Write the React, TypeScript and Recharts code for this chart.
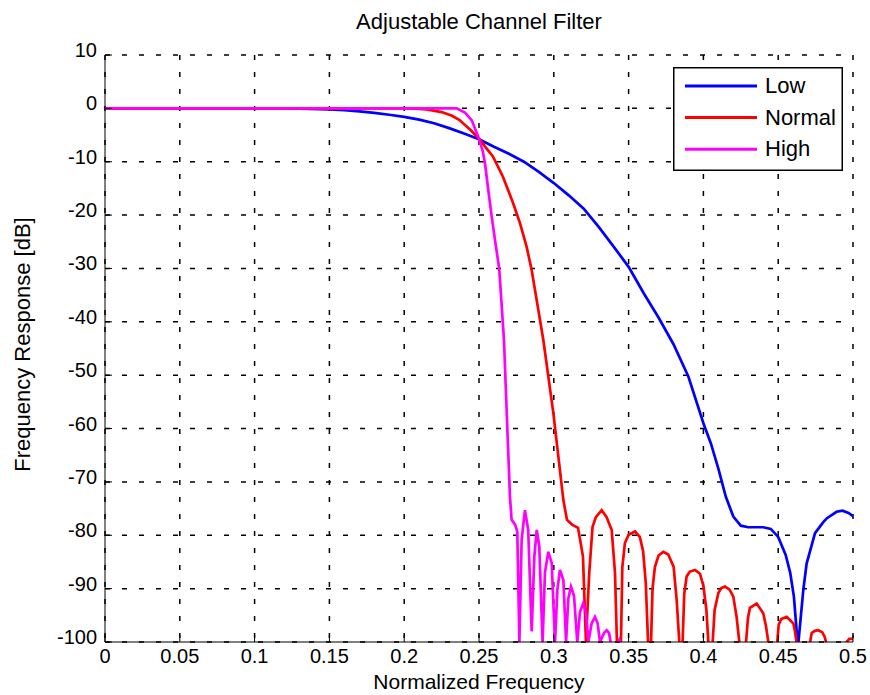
import { CartesianGrid, Legend, Line, LineChart, XAxis, YAxis } from "recharts";

const FONT = '"Liberation Sans", Arial, Helvetica, sans-serif';

const xTicks = [0, 0.05, 0.1, 0.15, 0.2, 0.25, 0.3, 0.35, 0.4, 0.45, 0.5];
const yTicks = [10, 0, -10, -20, -30, -40, -50, -60, -70, -80, -90, -100];

// Low
const lowFreq = [
  0, 0.05, 0.1, 0.13, 0.15, 0.16, 0.17, 0.18, 0.19, 0.2, 0.21, 0.22, 0.23, 0.24, 0.25, 0.26, 0.27, 0.28, 0.29, 0.3,
  0.31, 0.32, 0.33, 0.34, 0.35, 0.36, 0.37, 0.38, 0.39, 0.4, 0.405, 0.41, 0.415, 0.42, 0.425, 0.43, 0.44, 0.445,
  0.45, 0.455, 0.458, 0.4605, 0.4632, 0.4668, 0.469, 0.4746, 0.48, 0.4826, 0.489, 0.493, 0.497, 0.5
];
const lowDb = [
  0, 0, 0, -0.05, -0.2, -0.35, -0.55, -0.85, -1.2, -1.6, -2.1, -2.8, -3.7, -4.7, -5.8, -7.2, -8.5, -10, -11.9, -14,
  -16.3, -18.8, -22.2, -25.9, -29.7, -34.6, -39.2, -44.2, -50.3, -59, -62.8, -67.5, -72.8, -76.5, -78.2, -78.5, -78.5, -78.8,
  -80.3, -83.7, -87, -91.5, -101, -90.2, -85.3, -79.6, -77.6, -76.8, -75.6, -75.4, -75.8, -76.4
];

// Normal
const normalFreq = [
  0, 0.205, 0.215, 0.225, 0.232, 0.237, 0.2445, 0.2507, 0.255, 0.2593, 0.266, 0.2727, 0.2774, 0.2818, 0.2852, 0.2874,
  0.293, 0.2997, 0.3064, 0.3088, 0.3122, 0.3162, 0.3195, 0.3215,
  0.3237, 0.3259, 0.3281, 0.332, 0.3353, 0.3387, 0.3409, 0.3422, 0.3435, 0.3449,
  0.3458, 0.3475, 0.35, 0.3543, 0.3575, 0.3597, 0.3615, 0.363, 0.364, 0.365,
  0.366, 0.3676, 0.37, 0.3732, 0.3765, 0.3801, 0.3821, 0.3839, 0.385, 0.3861,
  0.3872, 0.3888, 0.391, 0.3944, 0.3977, 0.4, 0.402, 0.4033, 0.4048, 0.4062,
  0.4075, 0.41, 0.412, 0.4144, 0.4175, 0.42, 0.4222, 0.424, 0.4262, 0.4285,
  0.4298, 0.4311, 0.4356, 0.44, 0.4418, 0.4434, 0.4464, 0.4494,
  0.4503, 0.452, 0.4557, 0.4601, 0.4612, 0.4623, 0.4668, 0.4713,
  0.4724, 0.4745, 0.4768, 0.4795, 0.481, 0.482, 0.489, 0.4958, 0.4975, 0.5
];
const normalDb = [
  0, 0, -0.2, -0.7, -1.4, -2.2, -4.1, -5.9, -7.5, -9, -12.8, -17.7, -21.5, -25.9, -30.3, -34,
  -43.4, -57.1, -73.4, -77.1, -78, -78.6, -84, -100,
  -87, -78.4, -76.6, -75.3, -76.6, -79, -87, -100, -105, -100,
  -86, -81.5, -79.9, -79.3, -80.3, -83, -89, -100, -105, -100,
  -90, -85.9, -83.8, -83.1, -83.6, -85.9, -92, -100, -105, -100,
  -91, -87.7, -86.8, -86.5, -87.2, -89.5, -94, -100, -105, -100,
  -94, -90.8, -89.9, -89.6, -90.2, -91.5, -95.3, -100, -106, -100,
  -95.5, -93.6, -92.8, -94.6, -97, -100, -106, -100,
  -96.8, -95.7, -95.3, -96.5, -98, -100, -106, -100,
  -98.3, -97.9, -97.8, -98.2, -99, -100, -106, -100, -99.4, -99.4
];

// High
const highFreq = [
  0, 0.2351, 0.2406, 0.2451, 0.2495, 0.2525, 0.254, 0.2562, 0.2585, 0.2607, 0.2635, 0.2667, 0.2689, 0.2707, 0.2718,
  0.2741, 0.2756, 0.277,
  0.2785, 0.2807, 0.2829, 0.2852,
  0.287, 0.2886, 0.2903, 0.2925,
  0.2941, 0.2963, 0.2986, 0.3008,
  0.3024, 0.3041, 0.3064, 0.3082,
  0.3097, 0.3115, 0.3135, 0.3157,
  0.3175, 0.3197, 0.3215, 0.3231,
  0.3253, 0.3275, 0.3293, 0.3309,
  0.3336, 0.3353, 0.3369, 0.338,
  0.341, 0.3432, 0.3438, 0.3444, 0.35, 0.5
];
const highDb = [
  0, 0, -0.8, -2.2, -5.3, -8, -10.3, -15.3, -20.3, -24.7, -30, -43.4, -59.7, -72.8, -77.1,
  -78, -79.3, -100,
  -80.9, -75.3, -79, -98,
  -84, -79, -82.1, -100,
  -87, -83.1, -85.2, -100,
  -90.2, -86.5, -88.4, -100,
  -91.9, -89.6, -91.3, -100,
  -94.4, -92.7, -94.4, -100,
  -96.5, -95.3, -96.5, -100,
  -98.3, -97.8, -98.3, -100,
  -104, -100, -99.6, -100, -110, -110
];

const toRows = (f: number[], db: number[]) => f.map((v, i) => ({ f: v, db: db[i] }));

const series = [
  { name: "Low", color: "#0000ff", rows: toRows(lowFreq, lowDb) },
  { name: "Normal", color: "#ff0000", rows: toRows(normalFreq, normalDb) },
  { name: "High", color: "#ff00ff", rows: toRows(highFreq, highDb) }
];

const TICK = 7;

function BottomTick({ x, y, payload }: any) {
  return (
    <g>
      <line x1={x} x2={x} y1={y} y2={y - TICK} stroke="#000" />
      <text x={x} y={y + 21} textAnchor="middle" fontSize={20} fontFamily={FONT} fill="#000">
        {String(payload.value)}
      </text>
    </g>
  );
}

function TopTick({ x, y }: any) {
  return <line x1={x} x2={x} y1={y} y2={y + TICK} stroke="#000" />;
}

function LeftTick({ x, y, payload }: any) {
  return (
    <g>
      <line x1={x} x2={x + TICK} y1={y} y2={y} stroke="#000" />
      <text x={x - 8} y={y + 2} textAnchor="end" fontSize={20} fontFamily={FONT} fill="#000">
        {String(payload.value)}
      </text>
    </g>
  );
}

function RightTick({ x, y }: any) {
  return <line x1={x} x2={x - TICK} y1={y} y2={y} stroke="#000" />;
}

function XTitle({ viewBox }: any) {
  return (
    <text x={viewBox.x + viewBox.width / 2} y={viewBox.y + 47} textAnchor="middle" fontSize={21} fontFamily={FONT} fill="#000">
      Normalized Frequency
    </text>
  );
}

function YTitle({ viewBox }: any) {
  const cx = 30;
  const cy = viewBox.y + viewBox.height / 2 - 4;
  return (
    <text x={cx} y={cy} transform={`rotate(-90 ${cx} ${cy})`} textAnchor="middle" fontSize={22} fontFamily={FONT} fill="#000">
      Frequency Response [dB]
    </text>
  );
}

function LegendBox() {
  return (
    <svg width={170} height={104} style={{ display: "block" }}>
      <rect x={0.75} y={0.75} width={168.5} height={102.5} fill="#fff" stroke="#000" strokeWidth={1.5} />
      {series.map((s, i) => {
        const ly = 19 + i * 31.6;
        return (
          <g key={s.name}>
            <line x1={12} x2={84} y1={ly} y2={ly} stroke={s.color} strokeWidth={3} />
            <text x={92} y={ly + 7} fontSize={22} fontFamily={FONT} fill="#000">
              {s.name}
            </text>
          </g>
        );
      })}
    </svg>
  );
}

export default function App() {
  return (
    <div style={{ position: "absolute", left: 0, top: 0, width: 870, height: 695, background: "#fff" }}>
      <div
        style={{
          position: "absolute",
          left: 105,
          top: 11,
          width: 748,
          textAlign: "center",
          fontFamily: FONT,
          fontSize: 22,
          lineHeight: "22px",
          color: "#000"
        }}
      >
        Adjustable Channel Filter
      </div>
      <LineChart width={870} height={695} margin={{ top: 55, right: 17, bottom: 0, left: 0 }}>
        <CartesianGrid stroke="#000" strokeWidth={1.5} strokeDasharray="5 12" horizontalValues={yTicks} verticalValues={xTicks} />
        <XAxis
          dataKey="f"
          type="number"
          domain={[0, 0.5]}
          ticks={xTicks}
          interval={0}
          allowDataOverflow
          height={53}
          tickSize={0}
          tickMargin={0}
          tickLine={false}
          axisLine={{ stroke: "#000" }}
          tick={BottomTick}
          label={<XTitle />}
        />
        <XAxis
          xAxisId="top"
          orientation="top"
          dataKey="f"
          type="number"
          domain={[0, 0.5]}
          ticks={xTicks}
          interval={0}
          height={0}
          tickSize={0}
          tickMargin={0}
          tickLine={false}
          axisLine={{ stroke: "#000" }}
          tick={TopTick}
        />
        <YAxis
          type="number"
          domain={[-100, 10]}
          ticks={yTicks}
          interval={0}
          allowDataOverflow
          width={105}
          tickSize={0}
          tickMargin={0}
          tickLine={false}
          axisLine={{ stroke: "#000" }}
          tick={LeftTick}
          label={<YTitle />}
        />
        <YAxis
          yAxisId="right"
          orientation="right"
          type="number"
          domain={[-100, 10]}
          ticks={yTicks}
          interval={0}
          width={0}
          tickSize={0}
          tickMargin={0}
          tickLine={false}
          axisLine={{ stroke: "#000" }}
          tick={RightTick}
        />
        {series.map((s) => (
          <Line
            key={s.name}
            name={s.name}
            data={s.rows}
            dataKey="db"
            type="linear"
            stroke={s.color}
            strokeWidth={2.7}
            dot={false}
            activeDot={false}
            isAnimationActive={false}
          />
        ))}
        <Legend
          layout="horizontal"
          align="center"
          verticalAlign="middle"
          content={<LegendBox />}
          wrapperStyle={{ left: 673, top: 67, width: 170, height: 104 }}
        />
      </LineChart>
    </div>
  );
}
